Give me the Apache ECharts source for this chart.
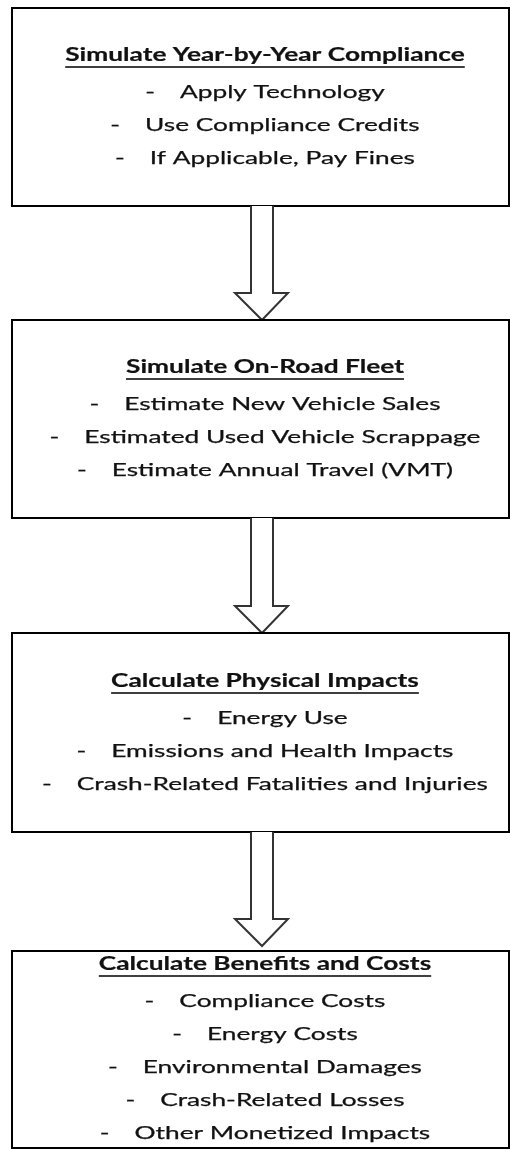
<!DOCTYPE html>
<html>
<head>
<meta charset="utf-8">
<script src="https://cdn.jsdelivr.net/npm/echarts@6/dist/echarts.min.js"></script>
<style>
  html, body { margin: 0; padding: 0; background: #fff; }
  #main { width: 510px; height: 1150px; }
</style>
</head>
<body>
<div id="main"></div>
<script>
// steps of the flow, top to bottom
var stepTitles = [
  'Simulate Year-by-Year Compliance',
  'Simulate On-Road Fleet',
  'Calculate Physical Impacts',
  'Calculate Benefits and Costs'
];
var stepItems = [
  ['Apply Technology', 'Use Compliance Credits', 'If Applicable, Pay Fines'],
  ['Estimate New Vehicle Sales', 'Estimated Used Vehicle Scrappage', 'Estimate Annual Travel (VMT)'],
  ['Energy Use', 'Emissions and Health Impacts', 'Crash-Related Fatalities and Injuries'],
  ['Compliance Costs', 'Energy Costs', 'Environmental Damages', 'Crash-Related Losses', 'Other Monetized Impacts']
];

// layout, in picture pixels (the hidden axes run 0..510 and 0..1150)
var boxLeft = 12, boxRight = 509;
var boxTop = [8, 320, 633, 951];
var boxBottom = [206, 518, 832, 1148];
var titleY = [55, 367, 681, 964];
var centerX = 265;
var firstGap = 37.5, lineGap = 33;
var dashGap = 25;
var shaftL = 251, shaftR = 273, wingL = 235, wingR = 288, arrowX = 262, headH = 27;
var arrowTip = [320, 633, 946];

var fontFamily = 'Lato';
var fontSize = 18;
var sx = 1.46; // the source text is stretched sideways

var ctx = document.createElement('canvas').getContext('2d');
function textW(str, weight) {
  ctx.font = weight + ' ' + fontSize + 'px ' + fontFamily;
  return ctx.measureText(str).width * sx;
}

function txt(str, x, y, weight, align) {
  return {
    type: 'text', x: x, y: y, scaleX: sx,
    style: {
      text: str, fill: '#111',
      stroke: '#111', lineWidth: weight === 'bold' ? 0.2 : 0.25,
      fontFamily: fontFamily, fontSize: fontSize, fontWeight: weight,
      align: align, verticalAlign: 'middle'
    }
  };
}

function renderItem(params, api) {
  var i = api.value(0);
  var kids = [];
  var a = api.coord([boxLeft, boxTop[i]]);
  var b = api.coord([boxRight, boxBottom[i]]);
  kids.push({
    type: 'rect',
    shape: { x: a[0], y: a[1], width: b[0] - a[0], height: b[1] - a[1] },
    style: { fill: '#fff', stroke: '#000', lineWidth: 2 }
  });

  // title, bold and underlined
  var t = api.coord([centerX, titleY[i]]);
  kids.push(txt(stepTitles[i], t[0], t[1], 'bold', 'center'));
  var tw = textW(stepTitles[i], 'bold');
  kids.push({
    type: 'line',
    shape: { x1: t[0] - tw / 2, y1: t[1] + 12, x2: t[0] + tw / 2, y2: t[1] + 12 },
    style: { stroke: '#000', lineWidth: 1.6 }
  });

  // bullet lines: dash, tab, text, centred together
  var dw = textW('-', 'normal');
  stepItems[i].forEach(function (s, k) {
    var p = api.coord([centerX, titleY[i] + firstGap + k * lineGap]);
    var w = dw + dashGap + textW(s, 'normal');
    var left = p[0] - w / 2;
    kids.push(txt('-', left, p[1], 'normal', 'left'));
    kids.push(txt(s, left + dw + dashGap, p[1], 'normal', 'left'));
  });

  // hollow arrow down to the next box
  if (i < arrowTip.length) {
    var y0 = boxBottom[i], tip = arrowTip[i], wy = tip - headH;
    var pts = [[shaftL, y0], [shaftL, wy], [wingL, wy], [arrowX, tip], [wingR, wy], [shaftR, wy], [shaftR, y0]]
      .map(function (q) { return api.coord(q); });
    kids.push({
      type: 'polyline',
      shape: { points: pts },
      style: { fill: '#fff', stroke: '#333', lineWidth: 2 }
    });
  }
  return { type: 'group', children: kids };
}

var myChart = echarts.init(document.getElementById('main'));
var option = {
  animation: false,
  grid: { left: 0, right: 0, top: 0, bottom: 0 },
  xAxis: { type: 'value', min: 0, max: 510, show: false },
  yAxis: { type: 'value', min: 0, max: 1150, inverse: true, show: false },
  series: [{
    type: 'custom',
    renderItem: renderItem,
    clip: false,
    data: stepTitles.map(function (s, i) { return [i]; })
  }]
};
myChart.setOption(option);
</script>
</body>
</html>
